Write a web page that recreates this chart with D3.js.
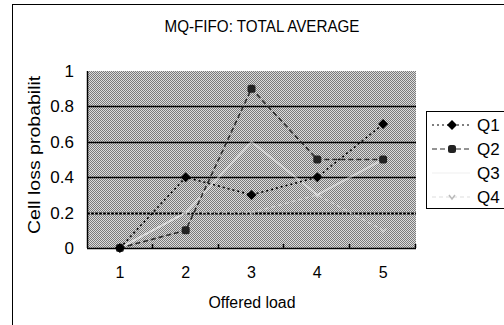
<!DOCTYPE html>
<html>
<head>
<meta charset="utf-8">
<script src="https://cdn.jsdelivr.net/npm/d3@7"></script>
<style>
	body { margin: 0; background: #fff; }
	text { font-family: "Liberation Sans", Arial, sans-serif; fill: #000; }
</style>
</head>
<body>
<script>
var loads = ['1', '2', '3', '4', '5'];
var yTicks = [0, 0.2, 0.4, 0.6, 0.8, 1];
var seriesNames = ['Q1', 'Q2', 'Q3', 'Q4'];
var q1 = [0, 0.4, 0.3, 0.4, 0.7];
var q2 = [0, 0.1, 0.9, 0.5, 0.5];
var q3 = [0, 0.2, 0.6, 0.3, 0.5];
var q4 = [0, 0.2, 0.2, 0.3, 0.1];

var w = 504, h = 325;
// note: "top" is taken by window.top, so plot edges get their own names
var plotL = 87, plotR = 416, plotT = 71, plotB = 248;

var series = [
	{ name: seriesNames[0], values: q1, color: '#000', dash: '2,3', width: 1.6, marker: 'diamond', mcolor: '#000', op: 1 },
	{ name: seriesNames[1], values: q2, color: '#2a2a2a', dash: '5,3', width: 1.6, marker: 'circle', mcolor: '#222', op: 1 },
	{ name: seriesNames[2], values: q3, color: '#fff', dash: null, width: 2, marker: null, mcolor: '#fff', op: 0.45 },
	{ name: seriesNames[3], values: q4, color: '#eee', dash: '4,3', width: 1.5, marker: 'v', mcolor: '#eee', op: 0.45 }
];

var svg = d3.select('body').append('svg')
	.attr('width', w)
	.attr('height', h);

// dithered gray fill of the plot area
var defs = svg.append('defs');
var pat = defs.append('pattern')
	.attr('id', 'dither')
	.attr('patternUnits', 'userSpaceOnUse')
	.attr('width', 2)
	.attr('height', 2);
pat.append('rect').attr('width', 2).attr('height', 2).attr('fill', '#dcdcdc');
pat.append('rect').attr('width', 1).attr('height', 1).attr('fill', '#7a7a7a');
pat.append('rect').attr('x', 1).attr('y', 1).attr('width', 1).attr('height', 1).attr('fill', '#7a7a7a');

// the y title is cut at the top in the original
defs.append('clipPath').attr('id', 'ylabclip')
	.append('rect').attr('x', 0).attr('y', 76).attr('width', 80).attr('height', 200);

// outer chart border
svg.append('rect')
	.attr('x', 12.5).attr('y', 4.5)
	.attr('width', 600).attr('height', 400)
	.attr('fill', 'none')
	.attr('stroke', '#000');

svg.append('text')
	.attr('x', 262).attr('y', 32)
	.attr('text-anchor', 'middle')
	.attr('font-size', 17)
	.attr('textLength', 195)
	.attr('lengthAdjust', 'spacingAndGlyphs')
	.text('MQ-FIFO: TOTAL AVERAGE');

var x = d3.scaleBand().domain(loads).range([plotL, plotR]);
var y = d3.scaleLinear().domain([0, 1]).range([plotB, plotT]);

function cx(i) {
	return x(loads[i]) + x.bandwidth() / 2;
}

svg.append('rect')
	.attr('x', plotL).attr('y', plotT)
	.attr('width', plotR - plotL).attr('height', plotB - plotT)
	.attr('fill', 'url(#dither)');

svg.selectAll('.grid')
	.data(yTicks.filter(function(d) { return d > 0 && d < 1; }))
	.enter().append('line')
		.attr('class', 'grid')
		.attr('x1', plotL).attr('x2', plotR)
		.attr('y1', function(d) { return Math.round(y(d)) + 0.5; })
		.attr('y2', function(d) { return Math.round(y(d)) + 0.5; })
		.attr('stroke', '#000')
		.attr('stroke-width', function(d) { return d == 0.2 ? 2 : 1.6; })
		.attr('stroke-dasharray', function(d) { return d == 0.2 ? '3,1' : null; });

// axis lines and inner ticks at band edges
svg.append('line')
	.attr('x1', plotL + 0.5).attr('x2', plotL + 0.5)
	.attr('y1', plotT).attr('y2', plotB)
	.attr('stroke', '#000').attr('stroke-width', 1.5);
svg.append('line')
	.attr('x1', plotL).attr('x2', plotR)
	.attr('y1', plotB + 0.5).attr('y2', plotB + 0.5)
	.attr('stroke', '#000').attr('stroke-width', 1.5);
svg.selectAll('.xtick')
	.data(loads)
	.enter().append('line')
		.attr('class', 'xtick')
		.attr('x1', function(d) { return Math.round(x(d) + x.bandwidth()) - 0.5; })
		.attr('x2', function(d) { return Math.round(x(d) + x.bandwidth()) - 0.5; })
		.attr('y1', plotB - 4).attr('y2', plotB)
		.attr('stroke', '#000').attr('stroke-width', 1.5);

var yAxis = svg.append('g')
	.attr('transform', 'translate(' + plotL + ',0)')
	.call(d3.axisLeft(y).tickValues(yTicks).tickSize(0).tickPadding(13)
		.tickFormat(function(d) { return String(d); }));
yAxis.select('.domain').remove();
yAxis.selectAll('text').attr('font-size', 17).attr('font-family', '"Liberation Sans", Arial, sans-serif');

var xAxis = svg.append('g')
	.attr('transform', 'translate(0,' + plotB + ')')
	.call(d3.axisBottom(x).tickSize(0).tickPadding(19));
xAxis.select('.domain').remove();
xAxis.selectAll('text').attr('font-size', 16).attr('font-family', '"Liberation Sans", Arial, sans-serif');

svg.append('text')
	.attr('x', 252).attr('y', 308)
	.attr('text-anchor', 'middle')
	.attr('font-size', 16)
	.attr('textLength', 87)
	.attr('lengthAdjust', 'spacingAndGlyphs')
	.text('Offered load');

svg.append('g')
	.attr('clip-path', 'url(#ylabclip)')
	.append('text')
		.attr('transform', 'translate(40,234)rotate(-90)')
		.attr('font-size', 16)
		.attr('textLength', 168)
		.attr('lengthAdjust', 'spacingAndGlyphs')
		.text('Cell loss probability');

var line = d3.line()
	.x(function(d, i) { return cx(i); })
	.y(function(d) { return y(d); });

function drawMarker(g, type, px, py, color) {
	if (type == 'diamond') {
		g.append('path')
			.attr('d', 'M' + px + ',' + (py - 5) + 'L' + (px + 5) + ',' + py + 'L' + px + ',' + (py + 5) + 'L' + (px - 5) + ',' + py + 'Z')
			.attr('fill', color);
	} else if (type == 'circle') {
		g.append('rect')
			.attr('x', px - 4).attr('y', py - 4)
			.attr('width', 8).attr('height', 8)
			.attr('rx', 2.5)
			.attr('fill', color);
	} else if (type == 'v') {
		g.append('path')
			.attr('d', 'M' + (px - 3) + ',' + (py - 2) + 'L' + px + ',' + (py + 2) + 'L' + (px + 3) + ',' + (py - 2))
			.attr('fill', 'none').attr('stroke', color).attr('stroke-width', 1.5);
	}
}

// draw back to front so Q1 ends on top
series.slice().reverse().forEach(function(s) {
	var g = svg.append('g').attr('opacity', s.op);
	g.append('path')
		.datum(s.values)
		.attr('d', line)
		.attr('fill', 'none')
		.attr('stroke', s.color)
		.attr('stroke-width', s.width)
		.attr('stroke-dasharray', s.dash);
	s.values.forEach(function(v, i) {
		drawMarker(g, s.marker, cx(i), y(v), s.mcolor);
	});
});

// legend
var lg = svg.append('g').attr('transform', 'translate(426,111)');
lg.append('rect')
	.attr('x', 0.5).attr('y', 0.5)
	.attr('width', 78).attr('height', 97)
	.attr('fill', '#fff')
	.attr('stroke', '#000');

var rowY = [14, 38, 62, 86];
series.forEach(function(s, i) {
	var row = lg.append('g');
	row.append('line')
		.attr('x1', 6).attr('x2', 44)
		.attr('y1', rowY[i]).attr('y2', rowY[i])
		.attr('stroke', s.color == '#fff' ? '#f4f4f4' : (s.color == '#eee' ? '#ddd' : s.color))
		.attr('stroke-width', s.width - 0.4)
		.attr('stroke-dasharray', s.dash);
	drawMarker(row, s.marker, 26, rowY[i], s.color == '#eee' ? '#bbb' : s.mcolor);
	row.append('text')
		.attr('x', 51).attr('y', rowY[i] + 6)
		.attr('font-size', 17)
		.text(s.name);
});
</script>
</body>
</html>
